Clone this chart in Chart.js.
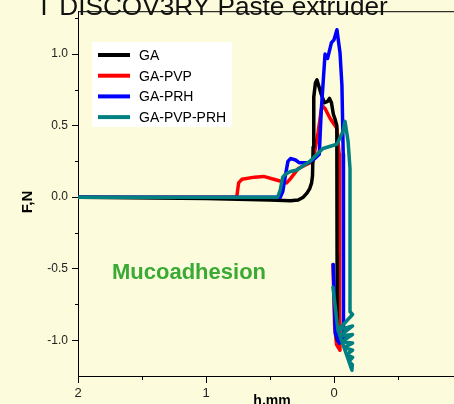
<!DOCTYPE html>
<html>
<head>
<meta charset="utf-8">
<script src="https://cdn.jsdelivr.net/npm/chart.js@4.4.1/dist/chart.umd.min.js"></script>
<style>
  html, body { margin: 0; padding: 0; background: #fcfcdc; }
  #wrap { width: 454px; height: 404px; position: relative; }
</style>
</head>
<body>
<div id="wrap"><canvas id="c" width="454" height="404"></canvas></div>
<script>
// series: h in mm, F in N
var gaH = [2.0, 1.0, 0.5, 0.34, 0.28, 0.24, 0.21, 0.19, 0.175, 0.168, 0.163, 0.158, 0.145, 0.133, 0.12, 0.10, 0.075, 0.05, 0.035, 0.02, 0.005, -0.01, -0.022, -0.024, -0.026, -0.02, -0.01];
var gaF = [0.0, -0.01, -0.02, -0.025, -0.02, 0.0, 0.03, 0.06, 0.1, 0.15, 0.35, 0.7, 0.8, 0.82, 0.78, 0.72, 0.66, 0.67, 0.69, 0.66, 0.58, 0.54, 0.5, -0.4, -1.0, -0.98, -0.85];

var pvpH = [2.0, 0.76, 0.745, 0.72, 0.62, 0.55, 0.45, 0.37, 0.34, 0.28, 0.21, 0.164, 0.125, 0.094, 0.07, 0.03, -0.023, -0.04, -0.043, -0.047, -0.02, -0.005, 0.008];
var pvpF = [0.0, 0.0, 0.1, 0.125, 0.14, 0.145, 0.12, 0.10, 0.13, 0.2, 0.23, 0.25, 0.45, 0.64, 0.62, 0.55, 0.48, 0.3, -0.8, -1.07, -1.03, -0.9, -0.47];

var prhH = [2.0, 0.42, 0.40, 0.38, 0.36, 0.34, 0.30, 0.27, 0.20, 0.15, 0.115, 0.10, 0.07, 0.05, 0.02, 0.0, -0.023, -0.047, -0.062, -0.072, -0.074, -0.04, -0.01, 0.006];
var prhF = [0.0, 0.0, 0.04, 0.15, 0.25, 0.27, 0.26, 0.24, 0.24, 0.27, 0.3, 0.6, 1.0, 0.97, 1.08, 1.1, 1.17, 1.01, 0.78, 0.3, -1.0, -1.02, -0.95, -0.47];

var allH = [2.0, 0.44, 0.42, 0.40, 0.38, 0.34, 0.29, 0.19, 0.086, -0.023, -0.07, -0.086, -0.11, -0.125, -0.125,
    -0.145, -0.031, -0.145, -0.047, -0.145, -0.0625, -0.145, -0.078, -0.145, -0.098, -0.145, -0.117, -0.143, -0.14,
    -0.117, -0.078, -0.031, 0.008];
var allF = [0.0, 0.0, 0.05, 0.14, 0.16, 0.18, 0.19, 0.25, 0.34, 0.37, 0.46, 0.53, 0.39, 0.2, -0.8,
    -0.82, -0.93, -0.9, -0.97, -0.96, -1.01, -1.02, -1.05, -1.07, -1.1, -1.12, -1.15, -1.17, -1.21,
    -1.15, -1.05, -0.93, -0.63];

var seriesNames = ['GA', 'GA-PVP', 'GA-PRH', 'GA-PVP-PRH'];
var seriesColors = ['#000000', '#ff0000', '#0000ff', '#008080'];

var xTicks = [2, 1.5, 1, 0.5, 0, -0.5];
var xLabelled = [2, 1, 0];
var yTicks = [-1.0, -0.5, 0.0, 0.5, 1.0];
var yMinor = [-0.75, -0.25, 0.25, 0.75, 1.25];

function pts(h, f) {
    return h.map(function (v, i) { return { x: v, y: f[i] }; });
}

var font = '"Liberation Sans", Arial, sans-serif';

var decor = {
    id: 'decor',
    afterDraw: function (c) {
        var ctx = c.ctx, a = c.chartArea, x = c.scales.x, y = c.scales.y;
        ctx.save();
        // top frame line
        ctx.strokeStyle = '#000';
        ctx.lineWidth = 1;
        ctx.beginPath();
        ctx.moveTo(a.left, a.top + 0.5);
        ctx.lineTo(a.right, a.top + 0.5);
        ctx.stroke();
        // minor ticks
        ctx.beginPath();
        yMinor.forEach(function (v) {
            var py = Math.round(y.getPixelForValue(v)) + 0.5;
            ctx.moveTo(a.left - 3, py);
            ctx.lineTo(a.left, py);
        });
        xTicks.forEach(function (v) {
            if (xLabelled.indexOf(v) >= 0) return;
            var px = Math.round(x.getPixelForValue(v)) + 0.5;
            ctx.moveTo(px, a.bottom);
            ctx.lineTo(px, a.bottom + 4);
        });
        ctx.stroke();

        // legend box
        ctx.fillStyle = '#ffffff';
        ctx.fillRect(92, 42, 140, 85);
        ctx.font = '14px ' + font;
        ctx.textBaseline = 'middle';
        ctx.textAlign = 'left';
        seriesNames.forEach(function (n, i) {
            var ly = 55 + i * 20.7;
            ctx.strokeStyle = seriesColors[i];
            ctx.lineWidth = 4;
            ctx.beginPath();
            ctx.moveTo(98, ly);
            ctx.lineTo(130, ly);
            ctx.stroke();
            ctx.fillStyle = '#000';
            ctx.fillText(n, 139, ly + 1);
        });

        // annotation
        ctx.fillStyle = '#3aaa35';
        ctx.font = 'bold 22px ' + font;
        ctx.textBaseline = 'alphabetic';
        ctx.fillText('Mucoadhesion', 112, 279);

        // axis titles
        ctx.fillStyle = '#000';
        ctx.font = 'bold 15px ' + font;
        ctx.save();
        ctx.translate(27.5, 202);
        ctx.rotate(-Math.PI / 2);
        ctx.textAlign = 'center';
        ctx.textBaseline = 'middle';
        ctx.fillText('F,N', 0, 0);
        ctx.restore();
        ctx.font = 'bold 14px ' + font;
        ctx.textAlign = 'center';
        ctx.textBaseline = 'alphabetic';
        ctx.fillText('h,mm', 272, 405);

        // title, cut at the top of the picture
        var title = 'T DISCOV3RY Paste extruder';
        ctx.font = '25px ' + font;
        var w = ctx.measureText(title).width;
        var fs = 25 * 352 / w;
        ctx.font = fs + 'px ' + font;
        ctx.textAlign = 'left';
        ctx.fillStyle = '#111';
        ctx.fillText(title, 36, 15);
        ctx.restore();
    }
};

var ds = [
    { label: seriesNames[0], data: pts(gaH, gaF), borderColor: seriesColors[0], order: 2 },
    { label: seriesNames[1], data: pts(pvpH, pvpF), borderColor: seriesColors[1], order: 3 },
    { label: seriesNames[2], data: pts(prhH, prhF), borderColor: seriesColors[2], order: 1 },
    { label: seriesNames[3], data: pts(allH, allF), borderColor: seriesColors[3], order: 0 }
].map(function (d) {
    d.showLine = true;
    d.borderWidth = 3.5;
    d.pointRadius = 0;
    d.tension = 0;
    d.borderJoinStyle = 'round';
    d.borderCapStyle = 'round';
    return d;
});

new Chart(document.getElementById('c'), {
    type: 'scatter',
    data: { datasets: ds },
    options: {
        responsive: false,
        animation: false,
        layout: { padding: { top: 9, left: 0, right: 0, bottom: 0 } },
        plugins: { legend: { display: false }, tooltip: { enabled: false } },
        scales: {
            x: {
                type: 'linear',
                reverse: true,
                min: -0.9375,
                max: 2,
                afterFit: function (s) { s.height = 28; },
                afterBuildTicks: function (s) {
                    s.ticks = xLabelled.map(function (v) { return { value: v }; });
                },
                ticks: {
                    color: '#222',
                    padding: 3,
                    maxRotation: 0,
                    font: { family: font, size: 13 },
                    callback: function (v) { return String(v); }
                },
                grid: { drawOnChartArea: false, tickLength: 7, tickColor: '#000' },
                border: { color: '#000', width: 1 }
            },
            y: {
                min: -1.25,
                max: 1.30,
                afterFit: function (s) { s.width = 78; },
                afterBuildTicks: function (s) {
                    s.ticks = yTicks.map(function (v) { return { value: v }; });
                },
                ticks: {
                    color: '#222',
                    padding: 4,
                    font: { family: font, size: 12 },
                    callback: function (v) { return v.toFixed(1); }
                },
                grid: { drawOnChartArea: false, tickLength: 6, tickColor: '#000' },
                border: { color: '#000', width: 1 }
            }
        }
    },
    plugins: [decor]
});
</script>
</body>
</html>
